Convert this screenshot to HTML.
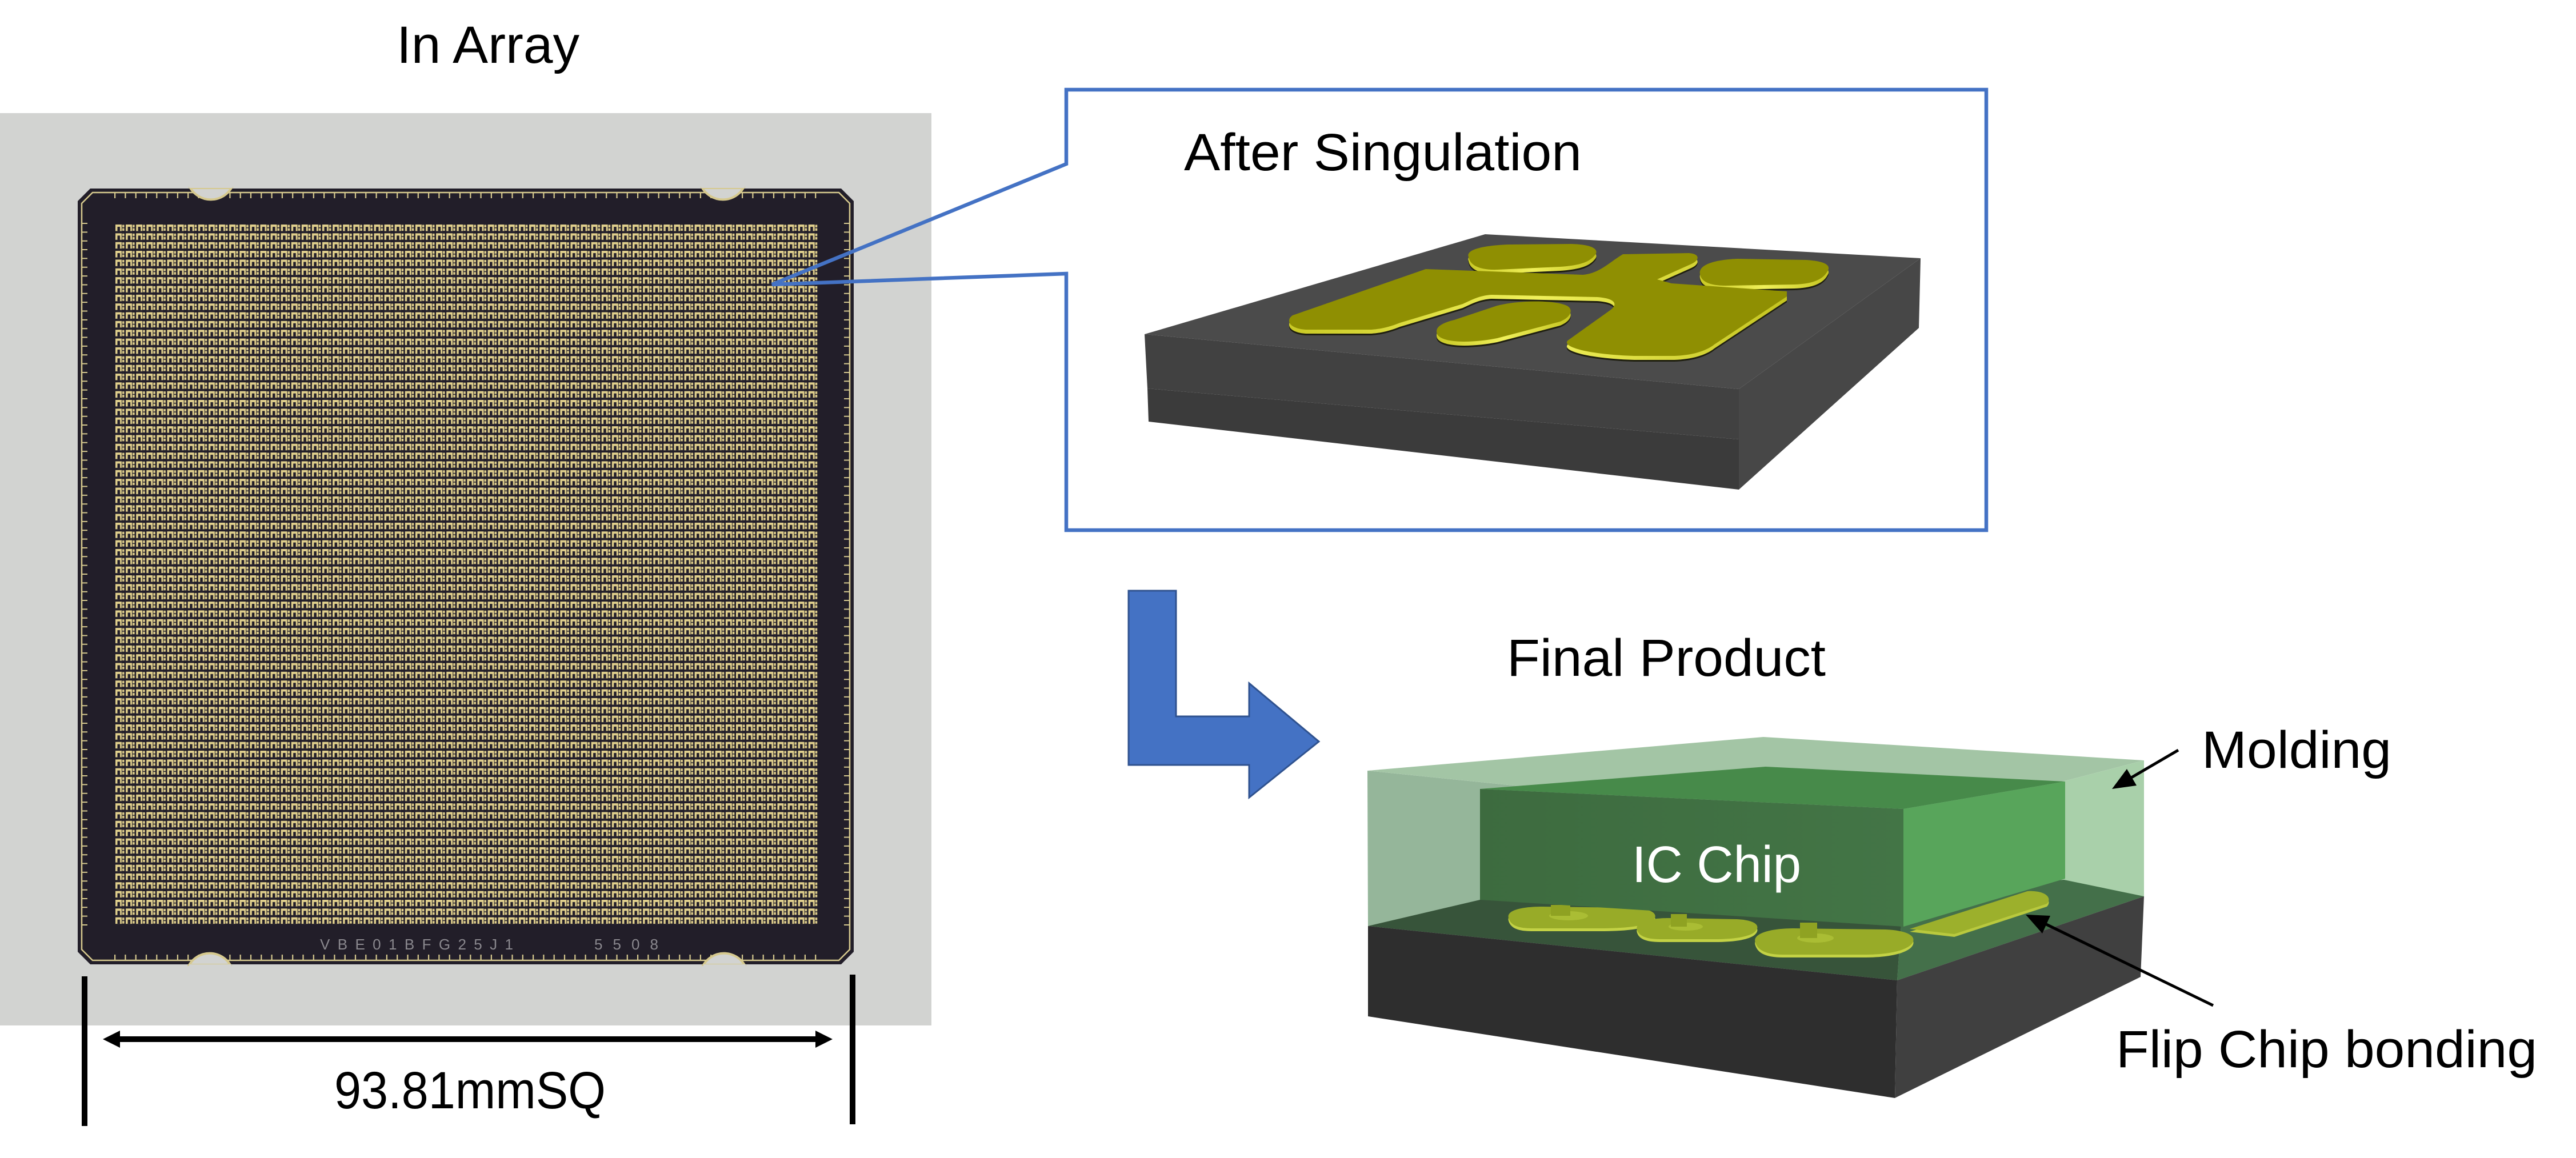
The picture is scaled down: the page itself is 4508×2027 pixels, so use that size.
<!DOCTYPE html>
<html>
<head>
<meta charset="utf-8">
<style>
  html, body { margin: 0; padding: 0; background: #ffffff; }
  svg { display: block; }
  text { font-family: "Liberation Sans", "Noto Sans CJK JP", sans-serif; }
</style>
</head>
<body>
<svg xmlns="http://www.w3.org/2000/svg" width="4508" height="2027" viewBox="0 0 4508 2027">
  <defs>
    <pattern id="cell" x="202" y="393" width="18.1" height="15.35" patternUnits="userSpaceOnUse">
      <rect x="0" y="0" width="18.1" height="15.35" fill="#221e29"/>
      <rect x="0" y="0" width="11" height="11.5" fill="#e0cf8c"/>
      <rect x="3.5" y="4" width="4.5" height="7.5" fill="#221e29"/>
      <rect x="12" y="0.5" width="3.5" height="4.5" fill="#e0cf8c"/>
      <rect x="12" y="6.5" width="3.5" height="4.5" fill="#e0cf8c"/>
    </pattern>
    <linearGradient id="rim" x1="0" y1="0" x2="1" y2="0">
      <stop offset="0" stop-color="#c9c925"/>
      <stop offset="0.5" stop-color="#f0f05a"/>
      <stop offset="1" stop-color="#c4c420"/>
    </linearGradient>
    <linearGradient id="chipFront" x1="0" y1="0" x2="1" y2="0">
      <stop offset="0" stop-color="#3d6b3f"/>
      <stop offset="1" stop-color="#437546"/>
    </linearGradient>
  </defs>

  <!-- ================= LEFT: IN ARRAY PHOTO ================= -->
  <text x="694" y="110" font-size="92" fill="#000" textLength="320" lengthAdjust="spacingAndGlyphs">In Array</text>

  <rect x="0" y="198" width="1630" height="1597" fill="#d2d3d1"/>

  <!-- board -->
  <polygon points="158,330 1472,330 1494,352 1494,1666 1472,1688 158,1688 136,1666 136,352" fill="#221e29"/>
  <polygon points="162,337 1468,337 1487,356 1487,1662 1468,1681 162,1681 143,1662 143,356" fill="none" stroke="#d6c98e" stroke-width="2.5"/>

  <!-- ticks -->
  <line x1="200" y1="342" x2="1435" y2="342" stroke="#d6c98e" stroke-width="10" stroke-dasharray="2.2 16.1"/>
  <line x1="200" y1="1676" x2="1435" y2="1676" stroke="#d6c98e" stroke-width="10" stroke-dasharray="2.2 16.1"/>
  <line x1="148" y1="390" x2="148" y2="1628" stroke="#d6c98e" stroke-width="10" stroke-dasharray="2 13.35"/>
  <line x1="1482" y1="390" x2="1482" y2="1628" stroke="#d6c98e" stroke-width="10" stroke-dasharray="2 13.35"/>

  <!-- notches -->
  <path d="M333,329 A42,42 0 0 0 405,329 Z" fill="#d2d3d1" stroke="#d6c98e" stroke-width="4"/>
  <path d="M1229,329 A42,42 0 0 0 1301,329 Z" fill="#d2d3d1" stroke="#d6c98e" stroke-width="4"/>
  <path d="M331,1689 A42,42 0 0 1 403,1689 Z" fill="#d2d3d1" stroke="#d6c98e" stroke-width="4"/>
  <path d="M1231,1689 A42,42 0 0 1 1303,1689 Z" fill="#d2d3d1" stroke="#d6c98e" stroke-width="4"/>
  <rect x="331" y="1688" width="74" height="10" fill="#d2d3d1"/>
  <rect x="1231" y="1688" width="74" height="10" fill="#d2d3d1"/>
  <rect x="331" y="320" width="76" height="9" fill="#d2d3d1"/>
  <rect x="1227" y="320" width="76" height="9" fill="#d2d3d1"/>

  <!-- grid -->
  <rect x="202" y="393" width="1230" height="1228" fill="url(#cell)"/>

  <!-- board marking -->
  <text x="560" y="1662" font-size="26" fill="#8a888e" textLength="338" lengthAdjust="spacing">VBE01BFG25J1</text>
  <text x="1040" y="1662" font-size="26" fill="#8a888e" textLength="112" lengthAdjust="spacing">5508</text>

  <!-- dimension -->
  <rect x="143" y="1709" width="10" height="262" fill="#000"/>
  <rect x="1487" y="1706" width="10" height="262" fill="#000"/>
  <rect x="205" y="1814" width="1225" height="10" fill="#000"/>
  <polygon points="180,1819 210,1804 210,1834" fill="#000"/>
  <polygon points="1457,1819 1427,1804 1427,1834" fill="#000"/>
  <text x="585" y="1940" font-size="92" fill="#000" textLength="475" lengthAdjust="spacingAndGlyphs">93.81mmSQ</text>

  <!-- ================= CALLOUT BOX ================= -->
  <path d="M1866,479 L1866,928 L3476,928 L3476,157 L1866,157 L1866,287 L1351,498 Z" fill="none" stroke="#4472c4" stroke-width="6.5" stroke-linejoin="miter"/>
  <text x="2072" y="298" font-size="92" fill="#000" textLength="696" lengthAdjust="spacingAndGlyphs">After Singulation</text>

  <!-- singulated chip -->
  <polygon points="2003,585 3043,681 3043,769 2008,680" fill="#414141"/>
  <polygon points="2008,680 3043,769 3043,857 2010,738" fill="#3b3b3b"/>
  <polygon points="3043,681 3361,452 3358,574 3043,857" fill="#474747"/>
  <polygon points="2003,585 2599,410 3361,452 3043,681" fill="#4b4b4b"/>

  <!-- pads: shadow, rim, top -->
  <g transform="translate(0,10)" fill="#1e1e10">
    <path d="M2570,450 C2565,438 2590,430 2640,428 L2750,427 C2790,428 2800,438 2790,448 C2780,460 2760,465 2730,467 L2620,472 C2585,473 2572,462 2570,450 Z"/>
    <path d="M2975,480 C2972,465 2995,455 3040,453 L3160,455 C3195,457 3205,465 3198,475 C3190,490 3170,497 3140,498 L3020,500 C2990,500 2977,492 2975,480 Z"/>
    <path d="M2515,585 C2510,572 2525,565 2545,560 L2620,535 C2660,525 2720,525 2742,535 C2755,542 2748,556 2730,563 L2620,592 C2580,600 2525,602 2515,585 Z"/>
    <path d="M2262,552 L2495,471 L2770,481 C2800,478 2815,460 2840,445 L2955,443 C2975,444 2975,455 2960,462 L2900,489 L2925,496 L3127,510 L3127,519 L3000,603 C2985,615 2960,622 2930,623 L2860,623 C2770,620 2730,605 2745,595 L2815,545 C2835,532 2825,522 2795,520 L2610,516 C2590,517 2575,525 2560,532 L2450,565 C2430,573 2415,576 2400,577 L2285,577 C2255,575 2250,560 2262,552 Z"/>
  </g>
  <g transform="translate(0,7)" fill="url(#rim)">
    <path d="M2570,450 C2565,438 2590,430 2640,428 L2750,427 C2790,428 2800,438 2790,448 C2780,460 2760,465 2730,467 L2620,472 C2585,473 2572,462 2570,450 Z"/>
    <path d="M2975,480 C2972,465 2995,455 3040,453 L3160,455 C3195,457 3205,465 3198,475 C3190,490 3170,497 3140,498 L3020,500 C2990,500 2977,492 2975,480 Z"/>
    <path d="M2515,585 C2510,572 2525,565 2545,560 L2620,535 C2660,525 2720,525 2742,535 C2755,542 2748,556 2730,563 L2620,592 C2580,600 2525,602 2515,585 Z"/>
    <path d="M2262,552 L2495,471 L2770,481 C2800,478 2815,460 2840,445 L2955,443 C2975,444 2975,455 2960,462 L2900,489 L2925,496 L3127,510 L3127,519 L3000,603 C2985,615 2960,622 2930,623 L2860,623 C2770,620 2730,605 2745,595 L2815,545 C2835,532 2825,522 2795,520 L2610,516 C2590,517 2575,525 2560,532 L2450,565 C2430,573 2415,576 2400,577 L2285,577 C2255,575 2250,560 2262,552 Z"/>
  </g>
  <g fill="#8f8f02">
    <path d="M2570,450 C2565,438 2590,430 2640,428 L2750,427 C2790,428 2800,438 2790,448 C2780,460 2760,465 2730,467 L2620,472 C2585,473 2572,462 2570,450 Z"/>
    <path d="M2975,480 C2972,465 2995,455 3040,453 L3160,455 C3195,457 3205,465 3198,475 C3190,490 3170,497 3140,498 L3020,500 C2990,500 2977,492 2975,480 Z"/>
    <path d="M2515,585 C2510,572 2525,565 2545,560 L2620,535 C2660,525 2720,525 2742,535 C2755,542 2748,556 2730,563 L2620,592 C2580,600 2525,602 2515,585 Z"/>
    <path d="M2262,552 L2495,471 L2770,481 C2800,478 2815,460 2840,445 L2955,443 C2975,444 2975,455 2960,462 L2900,489 L2925,496 L3127,510 L3127,519 L3000,603 C2985,615 2960,622 2930,623 L2860,623 C2770,620 2730,605 2745,595 L2815,545 C2835,532 2825,522 2795,520 L2610,516 C2590,517 2575,525 2560,532 L2450,565 C2430,573 2415,576 2400,577 L2285,577 C2255,575 2250,560 2262,552 Z"/>
  </g>

  <!-- ================= BLUE L ARROW ================= -->
  <polygon points="1975,1034 2058,1034 2058,1254 2186,1254 2186,1196 2308,1298 2186,1396 2186,1339 1975,1339" fill="#4472c4" stroke="#2f528f" stroke-width="3"/>

  <!-- ================= FINAL PRODUCT ================= -->
  <text x="2637" y="1183" font-size="92" fill="#000" textLength="558" lengthAdjust="spacingAndGlyphs">Final Product</text>

  <!-- molding faces -->
  <polygon points="2393,1349 3320,1443 3320,1716 2394,1621" fill="#95b69a"/>
  <polygon points="2393,1349 3086,1290 3752,1331 3320,1443" fill="#a3c5a5"/>
  <polygon points="3320,1443 3752,1331 3752,1569 3320,1716" fill="#a9d0aa"/>

  <!-- substrate top (through molding) -->
  <polygon points="2394,1621 2620,1568 3331,1560 3320,1716" fill="#37543a"/>
  <polygon points="3320,1716 3331,1560 3612,1540 3752,1569" fill="#44704a"/>

  <!-- bumps -->
  <g>
    <path transform="translate(0,5)" d="M2640,1607 C2636,1594 2660,1587 2700,1587 L2860,1589 C2895,1591 2905,1603 2890,1613 C2875,1622 2840,1625 2800,1625 L2680,1625 C2652,1625 2643,1617 2640,1607 Z" fill="#c3d245"/>
    <path d="M2640,1607 C2636,1594 2660,1587 2700,1587 L2860,1589 C2895,1591 2905,1603 2890,1613 C2875,1622 2840,1625 2800,1625 L2680,1625 C2652,1625 2643,1617 2640,1607 Z" fill="#98ab28"/>
    <ellipse cx="2745" cy="1603" rx="34" ry="8" fill="#aabd34"/>
    <rect x="2714" y="1584" width="34" height="19" fill="#8fa222"/>

    <path transform="translate(0,5)" d="M2865,1628 C2860,1615 2885,1607 2920,1607 L3040,1609 C3075,1611 3082,1622 3070,1632 C3058,1641 3030,1644 3000,1644 L2905,1644 C2878,1644 2868,1637 2865,1628 Z" fill="#c3d245"/>
    <path d="M2865,1628 C2860,1615 2885,1607 2920,1607 L3040,1609 C3075,1611 3082,1622 3070,1632 C3058,1641 3030,1644 3000,1644 L2905,1644 C2878,1644 2868,1637 2865,1628 Z" fill="#98ab28"/>
    <ellipse cx="2950" cy="1622" rx="30" ry="7" fill="#aabd34"/>
    <rect x="2924" y="1600" width="28" height="22" fill="#8fa222"/>

    <path transform="translate(0,5)" d="M3072,1650 C3066,1635 3095,1625 3140,1625 L3300,1627 C3345,1629 3356,1642 3344,1654 C3330,1666 3300,1671 3260,1671 L3120,1671 C3090,1671 3076,1663 3072,1650 Z" fill="#c3d245"/>
    <path d="M3072,1650 C3066,1635 3095,1625 3140,1625 L3300,1627 C3345,1629 3356,1642 3344,1654 C3330,1666 3300,1671 3260,1671 L3120,1671 C3090,1671 3076,1663 3072,1650 Z" fill="#98ab28"/>
    <ellipse cx="3177" cy="1642" rx="32" ry="8" fill="#aabd34"/>
    <rect x="3150" y="1615" width="30" height="27" fill="#8fa222"/>

    <path transform="translate(0,5)" d="M3342,1626 L3548,1560 C3580,1558 3592,1572 3582,1582 L3420,1635 Z" fill="#b9c93e"/>
    <path d="M3342,1626 L3548,1560 C3580,1558 3592,1572 3582,1582 L3420,1635 Z" fill="#9cb02c"/>
  </g>

  <!-- IC chip -->
  <polygon points="2590,1381 3331,1416 3331,1622 2590,1575" fill="url(#chipFront)"/>
  <polygon points="2590,1381 3090,1342 3614,1368 3331,1416" fill="#478a4a"/>
  <polygon points="3331,1416 3614,1368 3614,1538 3331,1622" fill="#58a55b"/>
  <text x="2856" y="1544" font-size="90" fill="#ffffff" textLength="296" lengthAdjust="spacingAndGlyphs">IC Chip</text>

  <!-- substrate visible faces -->
  <polygon points="2394,1621 3320,1716 3316,1922 2394,1779" fill="#2e2e2e"/>
  <polygon points="3320,1716 3752,1569 3746,1710 3316,1922" fill="#404040"/>

  <!-- label arrows -->
  <line x1="3812" y1="1313" x2="3730" y2="1361" stroke="#000" stroke-width="5"/>
  <polygon points="3696,1381 3739,1375 3722,1346" fill="#000"/>
  <line x1="3873" y1="1760" x2="3581" y2="1618" stroke="#000" stroke-width="5"/>
  <polygon points="3545,1601 3588,1603 3574,1634" fill="#000"/>

  <text x="3853" y="1344" font-size="92" fill="#000" textLength="332" lengthAdjust="spacingAndGlyphs">Molding</text>
  <text x="3703" y="1868" font-size="92" fill="#000" textLength="737" lengthAdjust="spacingAndGlyphs">Flip Chip bonding</text>
</svg>
</body>
</html>
